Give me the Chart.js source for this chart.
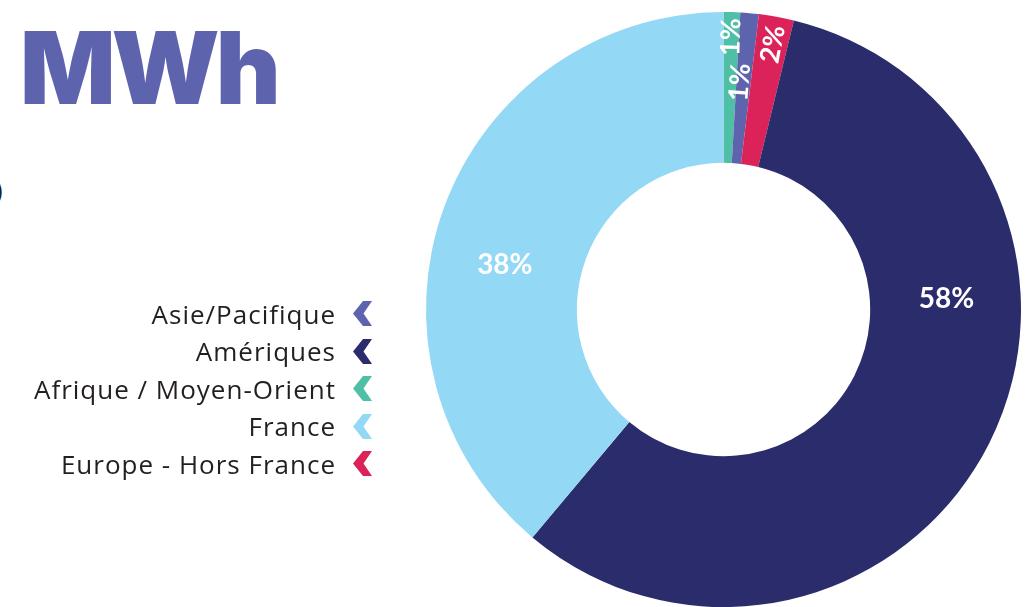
<!DOCTYPE html>
<html lang="fr">
<head>
<meta charset="utf-8">
<title>MWh</title>
<script src="https://cdn.jsdelivr.net/npm/chart.js@4.4.1/dist/chart.umd.min.js"></script>
<style>
  html, body { margin: 0; padding: 0; background: #fff; }
  body { width: 1034px; height: 607px; position: relative; overflow: hidden; font-family: "Open Sans", "Noto Sans", sans-serif; }
  #wrap { position: absolute; left: 0; top: 0; width: 1034px; height: 607px; }
  .title { position: absolute; left: 20px; top: 18px; font-family: Inter, sans-serif; font-weight: 900;
           font-size: 100px; line-height: 1; color: #5e63ae; letter-spacing: -4px; }
  .cut { position: absolute; left: -5px; top: 171px; font-size: 26px; color: #231f20; }
  #legend { position: absolute; left: 0; top: 295px; width: 372px; }
  .lrow { display: flex; justify-content: flex-end; align-items: center; height: 37.5px; }
  .lrow span { font-size: 26px; color: #231f20; margin-right: 17px; white-space: nowrap; letter-spacing: 1px; }
  .lrow svg { display: block; }
</style>
</head>
<body>
<div class="title">MWh</div>
<div class="cut">)</div>
<div id="wrap"><canvas id="chart"></canvas></div>
<div id="legend"></div>
<script>
// ── data (clockwise from 12 o'clock) ──
const categories = ['Afrique / Moyen-Orient', 'Asie/Pacifique', 'Europe - Hors France', 'Amériques', 'France'];
const shares     = [0.9, 1.0, 1.9, 57.3, 38.9];
const shareText  = ['1%', '1%', '2%', '58%', '38%'];
const colors     = ['#4fbfa5', '#5e63ae', '#dc2359', '#2b2c6b', '#93d8f5'];
const legendOrder = [1, 3, 0, 4, 2];

// ── labels inside the ring ──
const sliceLabels = {
  id: 'sliceLabels',
  afterDatasetsDraw(chart, args, opts) {
    const ctx = chart.ctx;
    const meta = chart.getDatasetMeta(0);
    ctx.save();
    ctx.fillStyle = '#fff';
    ctx.textAlign = 'center';
    ctx.textBaseline = 'middle';
    meta.data.forEach((arc, i) => {
      const p = opts.place[i];
      const a = (arc.startAngle + arc.endAngle) / 2 + p.da * Math.PI / 180;
      const r = arc.outerRadius * p.r;
      const x = arc.x + Math.cos(a) * r;
      const y = arc.y + Math.sin(a) * r;
      ctx.font = 'bold ' + p.size + 'px Lato, sans-serif';
      ctx.save();
      ctx.translate(x, y);
      if (p.rotate) ctx.rotate(a);
      ctx.fillText(shareText[i], 0, 0);
      ctx.restore();
    });
    ctx.restore();
  }
};

new Chart(document.getElementById('chart'), {
  type: 'doughnut',
  data: {
    labels: categories,
    datasets: [{ data: shares, backgroundColor: colors, borderWidth: 0, hoverOffset: 0 }]
  },
  options: {
    responsive: true,
    maintainAspectRatio: false,
    animation: false,
    cutout: '49.3%',
    layout: { padding: { left: 425, right: 12, top: 12, bottom: 0 } },
    plugins: {
      legend: { display: false },
      tooltip: { enabled: false },
      sliceLabels: {
        place: [
          { r: 0.916, da: 0,     size: 27, rotate: true },
          { r: 0.766, da: -0.9,  size: 27, rotate: true },
          { r: 0.907, da: 0.3,   size: 27, rotate: true },
          { r: 0.75,  da: -29.4, size: 28 },
          { r: 0.75,  da: -8.5,  size: 28 }
        ]
      }
    }
  },
  plugins: [sliceLabels]
});

// ── legend: text on the left, chevron on the right ──
const legend = document.getElementById('legend');
legendOrder.forEach(i => {
  const row = document.createElement('div');
  row.className = 'lrow';
  const s = document.createElement('span');
  s.textContent = categories[i];
  row.appendChild(s);
  row.insertAdjacentHTML('beforeend',
    '<svg width="19" height="25" viewBox="0 0 19 25"><polygon points="10,0 19,0 10.5,12.5 19,25 10,25 0,12.5" fill="' + colors[i] + '"/></svg>');
  legend.appendChild(row);
});
</script>
</body>
</html>
